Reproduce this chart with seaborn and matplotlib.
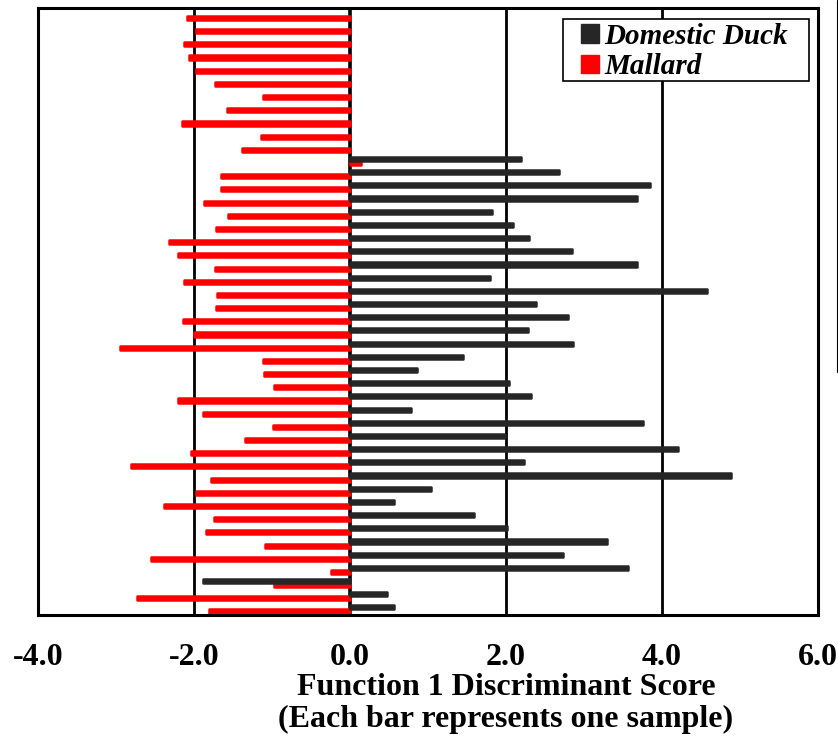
"""
Discriminant score bar chart: Domestic Duck vs Mallard samples.
Each horizontal bar is one sample's Function 1 score.
"""

import matplotlib
matplotlib.use("Agg")
import matplotlib.pyplot as plt
from matplotlib.lines import Line2D
from matplotlib.patches import Patch, Rectangle
import numpy as np
import pandas as pd
import seaborn as sns

# rows read top to bottom
SAMPLES = [str(i) for i in range(1, 47)]

MALLARD = [
    -2.09, -1.98, -2.13, -2.06, -1.97, -1.73, -1.11, -1.58, -2.16, -1.14,
    -1.38, 0.14, -1.66, -1.65, -1.87, -1.56, -1.72, -2.32, -2.20, -1.73,
    -2.13, -1.70, -1.72, -2.14, -2.00, -2.95, -1.11, -1.10, -0.98, -2.20,
    -1.88, -0.99, -1.34, -2.04, -2.81, -1.78, -1.98, -2.39, -1.75, -1.84,
    -1.09, -2.55, -0.24, -0.97, -2.73, -1.81,
]

# first 11 rows have no domestic sample
DOMESTIC = [np.nan] * 11 + [
    2.19, 2.68, 3.84, 3.68, 1.82, 2.09, 2.29, 2.85, 3.68, 1.79,
    4.58, 2.38, 2.79, 2.28, 2.86, 1.45, 0.86, 2.04, 2.32, 0.78,
    3.75, 1.99, 4.21, 2.23, 4.88, 1.04, 0.56, 1.59, 2.01, 3.30,
    2.73, 3.56, -1.88, 0.47, 0.56,
]

GROUPS = ["Domestic Duck", "Mallard"]
COLORS = {"Domestic Duck": "#262626", "Mallard": "#FF0000"}
X_TICKS = [-4.0, -2.0, 0.0, 2.0, 4.0, 6.0]
GRID_AT = [-2.0, 2.0, 4.0]

sns.set_style("white")
plt.rcParams["font.family"] = ["Liberation Serif", "DejaVu Serif"]
plt.rcParams["font.weight"] = "bold"
plt.rcParams["text.color"] = "black"
plt.rcParams["xtick.color"] = "black"
plt.rcParams["xtick.labelcolor"] = "black"

W, H = 838, 738


def build_frame():
    df = pd.DataFrame({
        "sample": SAMPLES * 2,
        "group": ["Domestic Duck"] * len(SAMPLES) + ["Mallard"] * len(SAMPLES),
        "score": DOMESTIC + MALLARD,
    })
    return df.dropna()


def main():
    df = build_frame()

    fig = plt.figure(figsize=(W / 100, H / 100), dpi=100)
    ax = fig.add_axes([38 / W, 1 - 615 / H, 780 / W, 607 / H])

    for x in GRID_AT:
        ax.axvline(x, color="black", lw=2.0, zorder=0.5)
    ax.axvline(0, color="black", lw=2.6, zorder=0.6)

    sns.barplot(
        data=df, x="score", y="sample", hue="group",
        order=SAMPLES, hue_order=GROUPS, palette=COLORS,
        orient="h", width=0.62, dodge=True, errorbar=None,
        saturation=1, legend=False, ax=ax,
    )

    # thicken bars a little with a round-joined edge of the same colour
    for i, cont in enumerate(ax.containers):
        for p in cont.patches:
            p.set_edgecolor(p.get_facecolor())
            p.set_linewidth(1.8)
            p.set_joinstyle("round")
            p.set_zorder(3 if i == 0 else 2)

    ax.set_xlim(-4, 6)
    ax.set_ylim(45.42, -0.6)
    ax.set_xticks(X_TICKS)
    ax.set_xticklabels([f"{t:.1f}" for t in X_TICKS])
    ax.set_yticks([])
    ax.set_xlabel("")
    ax.set_ylabel("")
    ax.tick_params(axis="x", length=0, pad=20, labelsize=23, labelcolor="black")
    for lab in ax.get_xticklabels():
        lab.set_fontweight("bold")

    for side in ["left", "right", "top", "bottom"]:
        ax.spines[side].set_visible(True)
        ax.spines[side].set_color("black")
        ax.spines[side].set_linewidth(2.2)

    # legend box drawn separately so its padding matches the original
    fig.add_artist(Rectangle((563 / W, 1 - 81 / H), 246 / W, 62 / H,
                             transform=fig.transFigure, facecolor="white",
                             edgecolor="black", lw=1.2, zorder=4))
    handles = [Patch(facecolor=COLORS[g], edgecolor=COLORS[g]) for g in GROUPS]
    leg = fig.legend(
        handles, GROUPS, loc="upper left",
        bbox_to_anchor=(581 / W, 1 - 23 / H),
        borderaxespad=0, borderpad=0, frameon=False,
        handlelength=0.6, handleheight=0.6, handletextpad=0.2,
        labelspacing=0.12,
        prop={"family": "Liberation Serif", "weight": "bold",
              "style": "italic", "size": 21},
    )
    leg.set_zorder(5)
    for t in leg.get_texts():
        t.set_color("black")

    cx = 506 / W
    fig.text(cx, 1 - 695 / H, "Function 1 Discriminant Score",
             ha="center", va="baseline", fontsize=23, fontweight="bold")
    fig.text(cx, 1 - 727 / H, "(Each bar represents one sample)",
             ha="center", va="baseline", fontsize=23, fontweight="bold")

    # thin stray edge line at the far right of the original image
    fig.add_artist(Line2D([836.5 / W] * 2, [1, 1 - 372 / H],
                          transform=fig.transFigure, color="black", lw=0.8))

    fig.savefig("out.png", dpi=100)
    plt.close(fig)


if __name__ == "__main__":
    main()
